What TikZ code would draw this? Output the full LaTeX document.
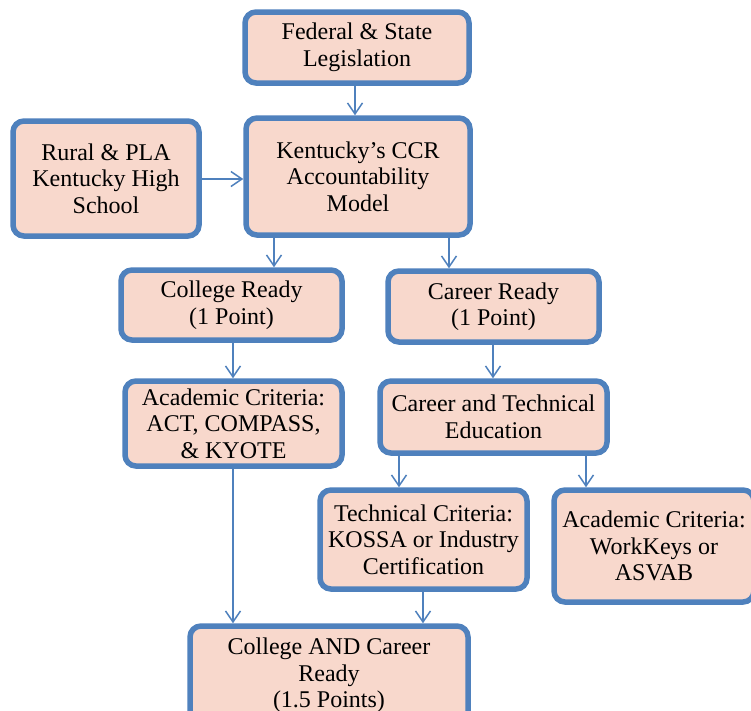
\documentclass[tikz,border=0pt]{standalone}
\usepackage{fontspec}
\setmainfont{Liberation Serif}
\usetikzlibrary{arrows.meta}
\definecolor{bordblue}{HTML}{4F81BD}
\definecolor{boxfill}{HTML}{F8D8CC}
\tikzset{
  boxnode/.style={draw=bordblue, fill=boxfill, line width=5.5pt, rounded corners=11pt,
    align=center, inner sep=2pt, font=\fontsize{24}{26.5}\selectfont},
  arr/.style={draw=bordblue, line width=1.5pt,
    -{Straight Barb[length=11pt,width=15pt,line width=1.5pt]}}
}
\begin{document}
\begin{tikzpicture}[x=1pt,y=-1pt]
\clip (0,0) rectangle (751,710);
\fill[white] (0,0) rectangle (751,710);
% boxes
\node[boxnode, minimum width=224pt, minimum height=71pt] (fed) at (357,47.5) {Federal \& State\\Legislation};
\node[boxnode, minimum width=186pt, minimum height=115pt] (rural) at (106,178.5) {Rural \& PLA\\Kentucky High\\School};
\node[boxnode, minimum width=224pt, minimum height=117pt] (kccr) at (358,176.5) {Kentucky’s CCR\\Accountability\\Model};
\node[boxnode, minimum width=221pt, minimum height=70pt] (college) at (231.5,305) {College Ready\\(1 Point)};
\node[boxnode, minimum width=211pt, minimum height=71pt] (career) at (493.5,306.5) {Career Ready\\(1 Point)};
\node[boxnode, minimum width=217pt, minimum height=85pt] (acad) at (233.5,423.5) {Academic Criteria:\\ACT, COMPASS,\\\& KYOTE};
\node[boxnode, minimum width=227pt, minimum height=72pt] (cte) at (493.5,417) {Career and Technical\\Education};
\node[boxnode, minimum width=207pt, minimum height=99pt] (tech) at (423.5,539.5) {Technical Criteria:\\KOSSA or Industry\\Certification};
\node[boxnode, minimum width=200pt, minimum height=112pt] (asvab) at (654,546) {Academic Criteria:\\WorkKeys or\\ASVAB};
\node[boxnode, minimum width=278pt, minimum height=99pt] (cacr) at (329,675.5) {College AND Career\\Ready\\(1.5 Points)};
% column / row coordinates for connectors
\coordinate (xa) at (355,0);
\coordinate (yb) at (0,179);
\coordinate (xc) at (274,0);
\coordinate (xd) at (449,0);
\coordinate (xe) at (233,0);
\coordinate (xf) at (493,0);
\coordinate (xg) at (399,0);
\coordinate (xh) at (586,0);
\coordinate (xi) at (233,0);
\coordinate (xj) at (423,0);
% connectors
\draw[arr] (fed.south -| xa) -- (kccr.north -| xa);
\draw[arr] (rural.east |- yb) -- (kccr.west |- yb);
\draw[arr] (kccr.south -| xc) -- (college.north -| xc);
\draw[arr] (kccr.south -| xd) -- (career.north -| xd);
\draw[arr] (college.south -| xe) -- (acad.north -| xe);
\draw[arr] (career.south -| xf) -- (cte.north -| xf);
\draw[arr] (cte.south -| xg) -- (tech.north -| xg);
\draw[arr] (cte.south -| xh) -- (asvab.north -| xh);
\draw[arr] (acad.south -| xi) -- (cacr.north -| xi);
\draw[arr] (tech.south -| xj) -- (cacr.north -| xj);
\end{tikzpicture}
\end{document}
